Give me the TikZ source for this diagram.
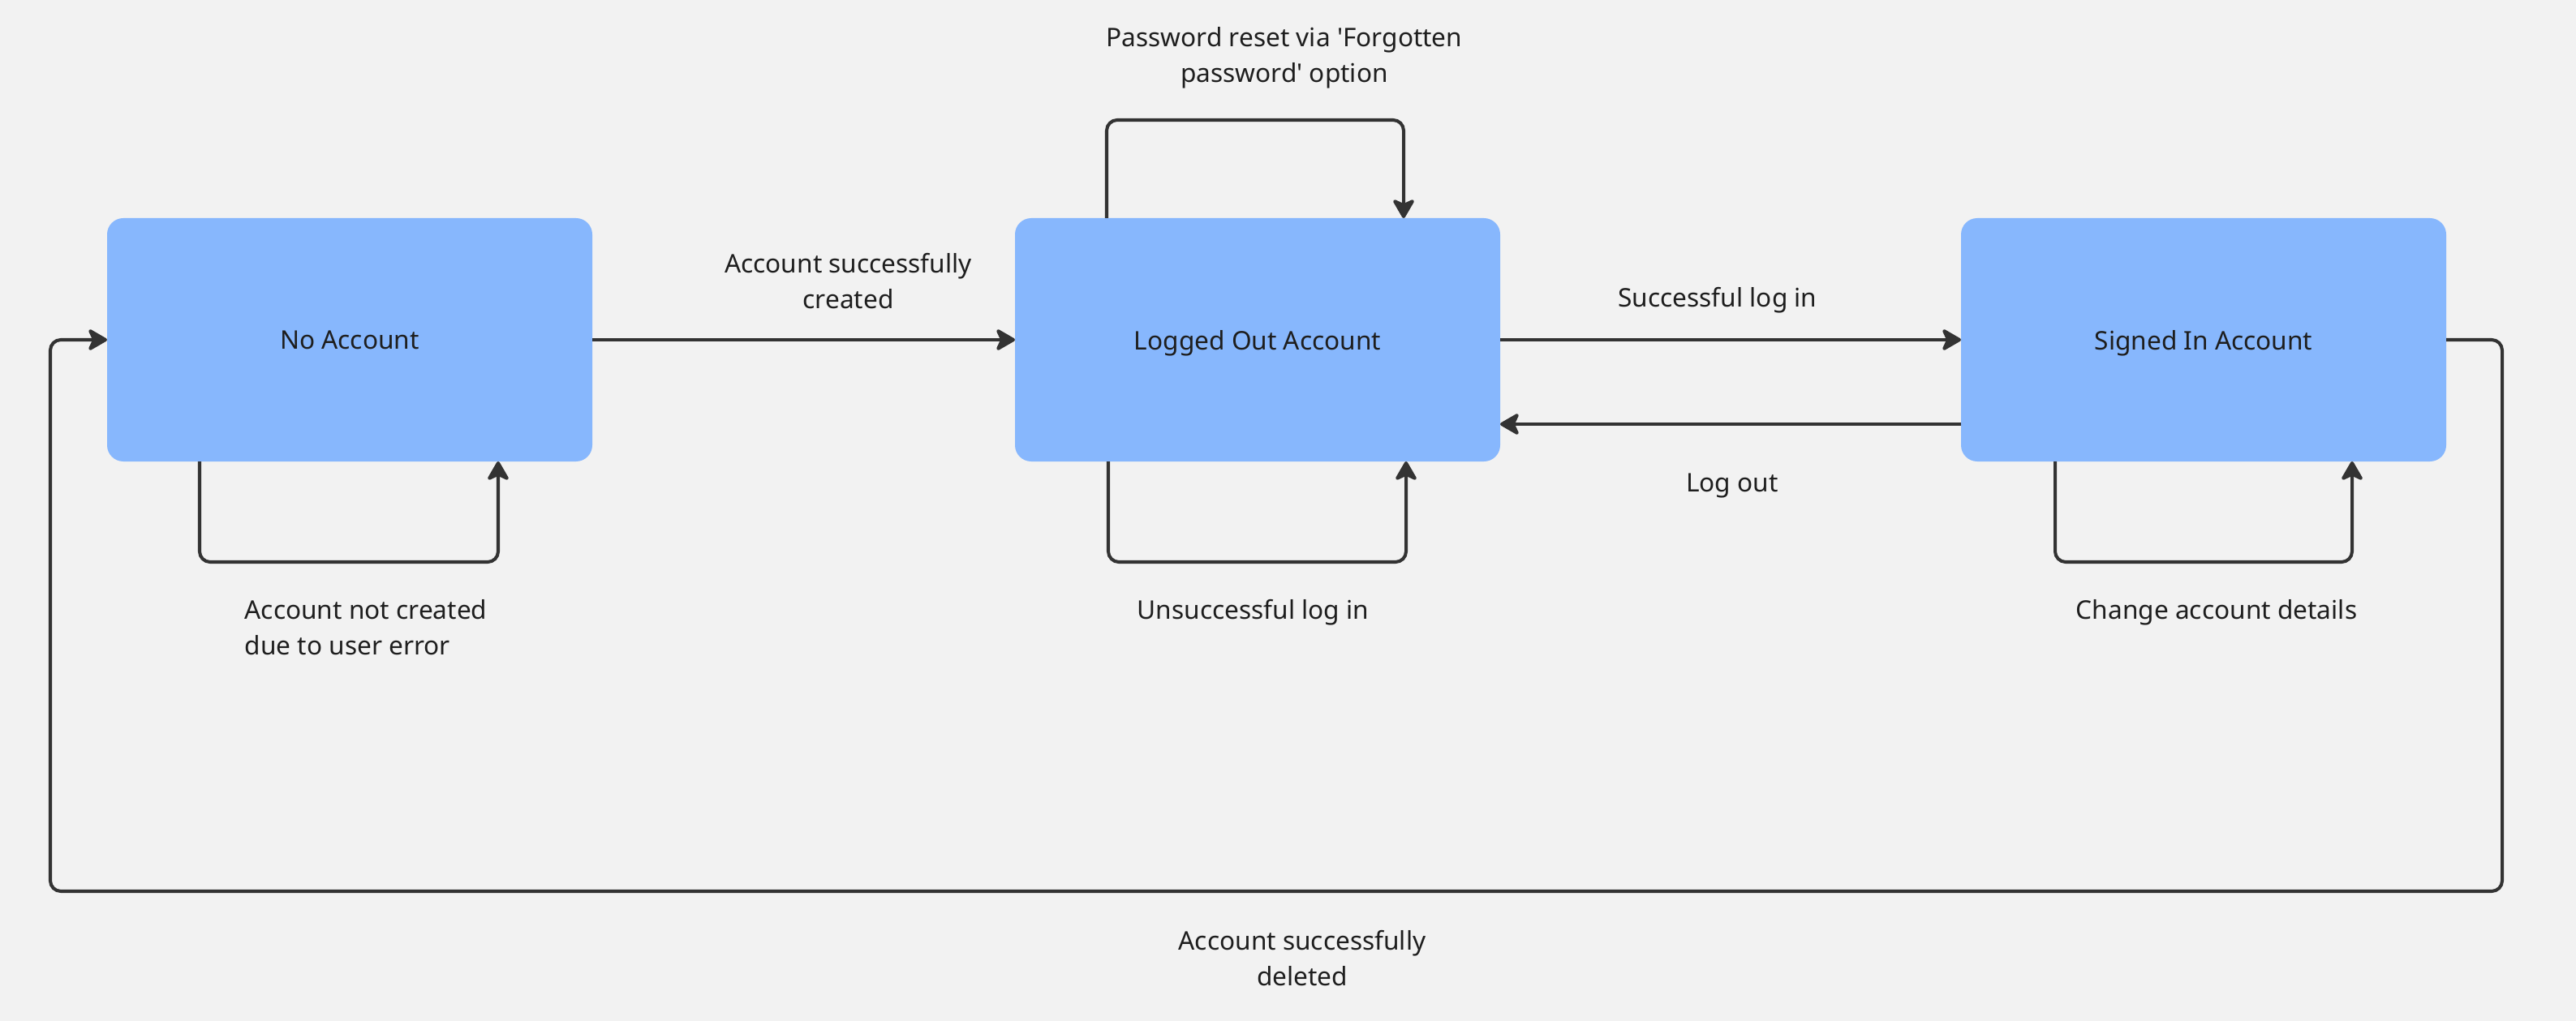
\documentclass[tikz,border=0pt]{standalone}
\usepackage{fontspec}
\setmainfont{Noto Sans}
\usetikzlibrary{arrows.meta, positioning, calc}
\definecolor{azulcaja}{HTML}{87B7FD}
\definecolor{grisfondo}{HTML}{F2F2F2}
\definecolor{grislinea}{HTML}{333333}
\definecolor{negrotexto}{HTML}{1E1E1E}
\colorlet{colCaja}{azulcaja}
\colorlet{colFondo}{grisfondo}
\colorlet{colLinea}{grislinea}
\colorlet{colTexto}{negrotexto}
\tikzset{
  cajaEstado/.style={
    draw=none, fill=colCaja, rounded corners=0.2cm,
    minimum width=5.98cm, minimum height=3cm, outer sep=0pt, text depth=0pt,
    align=center, font=\fontsize{9}{12.5}\selectfont, text=colTexto
  },
  flecha/.style={-{Stealth[length=2.7mm, width=3.1mm, inset=0.7mm, round]},
    line width=1.15pt, draw=colLinea, rounded corners=0.13cm},
  etiqueta/.style={font=\fontsize{9}{12.5}\selectfont, text=colTexto,
    align=center, inner sep=0pt},
}

\begin{document}
\begin{tikzpicture}
    \fill[colFondo] (0,0) rectangle (31.75,-12.59);
    \node[cajaEstado] (sinCuenta) at (4.31,-4.19) {No Account};
    \node[cajaEstado, right=5.21cm of sinCuenta] (cerrada) {Logged Out Account};
    \node[cajaEstado, right=5.68cm of cerrada] (abierta) {Signed In Account};
    % transiciones entre estados
    \draw[flecha] (sinCuenta) -- node[etiqueta, xshift=0.55cm, yshift=0.72cm] (lblCreada)
      {Account successfully\\created} (cerrada);
    \draw[flecha] (cerrada) -- node[etiqueta, xshift=-0.16cm, yshift=0.49cm] (lblEntrar)
      {Successful log in} (abierta);
    \draw[flecha] ([yshift=-1.04cm]abierta.west) -- node[etiqueta, xshift=0.02cm, yshift=-0.76cm] (lblSalir)
      {Log out} ([yshift=-1.04cm]cerrada.east);
    % bucles sobre el mismo estado
    \draw[flecha] ([xshift=1.14cm]sinCuenta.south west) -- ++(0,-1.24)
      -| node[pos=0.25, etiqueta, align=left, xshift=0.21cm, yshift=-0.81cm] (lblError)
      {Account not created\\due to user error} ([xshift=-1.16cm]sinCuenta.south east);
    \draw[flecha] ([xshift=1.13cm]cerrada.north west) -- ++(0,1.21)
      -| node[pos=0.25, etiqueta, xshift=0.36cm, yshift=0.77cm] (lblClave)
      {Password reset via \textquotesingle Forgotten\\password\textquotesingle{} option}
      ([xshift=-1.19cm]cerrada.north east);
    \draw[flecha] ([xshift=1.15cm]cerrada.south west) -- ++(0,-1.24)
      -| node[pos=0.25, etiqueta, xshift=-0.05cm, yshift=-0.62cm] (lblFallo)
      {Unsuccessful log in} ([xshift=-1.16cm]cerrada.south east);
    \draw[flecha] ([xshift=1.16cm]abierta.south west) -- ++(0,-1.24)
      -| node[pos=0.25, etiqueta, xshift=0.16cm, yshift=-0.62cm] (lblDatos)
      {Change account details} ([xshift=-1.16cm]abierta.south east);
    % borrar la cuenta
    \coordinate (esqDer) at ([xshift=0.69cm, yshift=-6.8cm]abierta.east);
    \coordinate (esqIzq) at ([xshift=-0.70cm, yshift=-6.8cm]sinCuenta.west);
    \draw[flecha] (abierta.east) -| (esqDer)
      -- node[etiqueta, xshift=0.32cm, yshift=-0.83cm] (lblBorrada)
      {Account successfully\\deleted} (esqIzq) |- (sinCuenta.west);
\end{tikzpicture}
\end{document}
